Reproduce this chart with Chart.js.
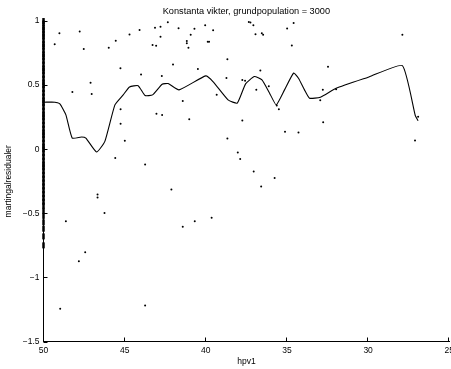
<!DOCTYPE html>
<html>
<head>
<meta charset="utf-8">
<script src="https://cdn.jsdelivr.net/npm/chart.js@4/dist/chart.umd.min.js"></script>
<style>
  html, body { margin: 0; padding: 0; background: #fff; overflow: hidden; }
  #wrap { width: 451px; height: 369px; overflow: hidden; }
</style>
</head>
<body>
<div id="wrap"><canvas id="residChart" width="451" height="369"></canvas></div>
<script>
// tick labels
var xTicks = [50, 45, 40, 35, 30, 25];
var yTicks = [-1.5, -1, -0.5, 0, 0.5, 1];

// scattered residuals (hpv1, residual)
var hpvDots = [49.31, 49.02, 47.77, 47.52, 48.22, 47.10, 47.03, 45.98, 45.55, 44.70,
    44.08, 43.13, 42.79, 42.34, 41.68, 40.70, 40.04, 39.55, 43.28, 43.06,
    42.79, 41.17, 41.17, 41.07, 40.93, 39.88, 39.80, 45.26, 43.99, 42.02,
    42.71, 40.49, 39.33, 41.42, 43.04, 42.69, 41.02, 45.25, 45.25, 44.99,
    45.58, 43.74, 37.35, 37.25, 37.07, 36.94, 36.55, 36.47, 34.99, 34.59,
    34.70, 38.67, 38.73, 37.75, 37.58, 36.64, 36.89, 36.12, 35.63, 35.50,
    37.75, 38.67, 38.03, 37.88, 37.05, 35.76, 35.12, 34.29, 32.77, 32.47,
    32.79, 32.95, 31.97, 27.89, 26.92, 27.11, 46.67, 46.67, 46.24, 48.62,
    47.43, 47.82, 48.97, 43.74, 42.12, 41.42, 40.68, 39.64, 36.59];
var residDots = [0.819, 0.904, 0.918, 0.781, 0.447, 0.518, 0.430, 0.791, 0.847, 0.895,
    0.930, 0.948, 0.956, 0.990, 0.944, 0.940, 0.967, 0.929, 0.813, 0.807,
    0.878, 0.844, 0.827, 0.792, 0.893, 0.838, 0.838, 0.632, 0.582, 0.661,
    0.572, 0.625, 0.424, 0.376, 0.276, 0.267, 0.233, 0.311, 0.198, 0.066,
    -0.068, -0.119, 0.992, 0.988, 0.967, 0.896, 0.905, 0.893, 0.942, 0.984,
    0.809, 0.702, 0.556, 0.541, 0.535, 0.615, 0.463, 0.492, 0.342, 0.311,
    0.224, 0.083, -0.026, -0.076, -0.173, -0.224, 0.136, 0.130, 0.210, 0.644,
    0.463, 0.383, 0.468, 0.893, 0.253, 0.068, -0.354, -0.377, -0.498, -0.562,
    -0.803, -0.873, -1.244, -1.220, -0.315, -0.605, -0.562, -0.535, -0.290];

// residuals stacked at hpv1 = 50
var edgeResid = [1.0, 0.98, 0.95, 0.93, 0.9, 0.88, 0.85, 0.82, 0.8, 0.77,
    0.74, 0.72, 0.69, 0.66, 0.63, 0.61, 0.58, 0.55, 0.52, 0.5,
    0.47, 0.44, 0.41, 0.38, 0.36, 0.33, 0.3, 0.27, 0.25, 0.22,
    0.19, 0.16, 0.13, 0.11, 0.08, 0.05, 0.02, 0.0, -0.03, -0.06,
    -0.09, -0.12, -0.14, -0.17, -0.2, -0.23, -0.26, -0.29, -0.32, -0.35,
    -0.38, -0.41, -0.44, -0.48, -0.52, -0.57, -0.62, -0.68, -0.75];

// smoothed curve
var curveX = [49.95, 49.29, 48.99, 48.62, 48.23, 47.65, 47.39, 46.73, 46.22, 45.60,
    45.09, 44.70, 44.17, 43.74, 43.28, 42.69, 42.32, 41.65, 40.01, 39.56,
    38.63, 38.06, 37.55, 37.01, 36.54, 36.07, 35.66, 35.15, 34.59, 34.29,
    33.92, 33.61, 32.94, 31.97, 29.95, 27.89, 27.09, 26.92];
var curveY = [0.367, 0.367, 0.354, 0.268, 0.087, 0.095, 0.087, -0.022, 0.061, 0.346,
    0.424, 0.486, 0.496, 0.419, 0.424, 0.507, 0.512, 0.463, 0.572, 0.528,
    0.385, 0.360, 0.510, 0.567, 0.541, 0.437, 0.346, 0.463, 0.595, 0.554,
    0.463, 0.398, 0.406, 0.476, 0.564, 0.652, 0.261, 0.222];

var fontFam = "'Liberation Sans', Arial, Helvetica, sans-serif";
var fontSize = 8.5;

// MATLAB style inward tick marks
var inwardTicks = {
    id: 'inwardTicks',
    afterDraw: function(chart) {
        var ctx = chart.ctx;
        var xs = chart.scales.x, ys = chart.scales.y;
        var a = chart.chartArea;
        ctx.save();
        ctx.strokeStyle = '#000';
        ctx.lineWidth = 1;
        ctx.beginPath();
        xTicks.forEach(function(v) {
            var px = Math.round(xs.getPixelForValue(v)) - 0.5;
            ctx.moveTo(px, a.bottom);
            ctx.lineTo(px, a.bottom - 4);
        });
        yTicks.forEach(function(v) {
            var py = Math.round(ys.getPixelForValue(v)) + 0.5;
            ctx.moveTo(a.left, py);
            ctx.lineTo(a.left + 4, py);
        });
        ctx.stroke();
        ctx.restore();
    }
};

function makeConfig() {
    var dotPts = hpvDots.map(function(x, i) { return { x: x, y: residDots[i] }; });
    var edgePts = edgeResid.map(function(y) { return { x: 50, y: y }; });
    var curvePts = curveX.map(function(x, i) { return { x: x, y: curveY[i] }; });
    return {
        type: 'scatter',
        data: {
            datasets: [
                {
                    label: 'kurva',
                    type: 'line',
                    data: curvePts,
                    borderColor: '#000',
                    borderWidth: 1.1,
                    pointRadius: 0,
                    fill: false,
                    tension: 0.15
                },
                {
                    label: 'residualer',
                    data: dotPts,
                    backgroundColor: '#000',
                    borderColor: '#000',
                    pointRadius: 1,
                    borderWidth: 0
                },
                {
                    label: 'kant',
                    data: edgePts,
                    pointStyle: 'line',
                    rotation: 90,
                    borderColor: '#000',
                    pointRadius: 3,
                    borderWidth: 2.5,
                    clip: false
                }
            ]
        },
        options: {
            responsive: false,
            animation: false,
            layout: { autoPadding: false, padding: { left: 0, right: 2, top: 0, bottom: 0 } },
            plugins: {
                legend: { display: false },
                tooltip: { enabled: false },
                title: {
                    display: true,
                    fullSize: false,
                    text: 'Konstanta vikter, grundpopulation = 3000',
                    color: '#000',
                    font: { family: fontFam, size: 9.2, weight: 'normal' },
                    padding: { top: 5.7, bottom: 4.3 }
                }
            },
            scales: {
                x: {
                    type: 'linear',
                    reverse: true,
                    min: 25,
                    max: 50,
                    afterBuildTicks: function(s) { s.ticks = xTicks.map(function(v) { return { value: v }; }); },
                    afterFit: function(s) { s.height = 27.5; },
                    grid: { display: true, drawOnChartArea: false, drawTicks: false },
                    border: { display: true, color: '#000', width: 1 },
                    ticks: {
                        color: '#000',
                        padding: 4,
                        maxRotation: 0,
                        autoSkip: false,
                        font: { family: fontFam, size: fontSize }
                    },
                    title: {
                        display: true,
                        text: 'hpv1',
                        color: '#000',
                        font: { family: fontFam, size: fontSize },
                        padding: { top: 0, bottom: 2 }
                    }
                },
                y: {
                    type: 'linear',
                    min: -1.5,
                    max: 1,
                    afterBuildTicks: function(s) { s.ticks = yTicks.map(function(v) { return { value: v }; }); },
                    afterFit: function(s) { s.width = 43.5; },
                    grid: { display: true, drawOnChartArea: false, drawTicks: false },
                    border: { display: true, color: '#000', width: 1 },
                    ticks: {
                        color: '#000',
                        padding: 4,
                        font: { family: fontFam, size: fontSize },
                        callback: function(v) { return String(v).replace('-', '\u2212'); }
                    },
                    title: {
                        display: true,
                        text: 'martingalresidualer',
                        color: '#000',
                        font: { family: fontFam, size: fontSize },
                        padding: { top: 4, bottom: 0 }
                    }
                }
            }
        },
        plugins: [inwardTicks]
    };
}

// the axes run to the right edge of the window, so the "25" label is cut off there
var canvas = document.getElementById('residChart');
var chart = new Chart(canvas, makeConfig());
var shift = 449 - chart.chartArea.right;
if (Math.abs(shift) > 0.2) {
    chart.destroy();
    var w = Math.round(451 + shift);
    canvas.width = w;
    canvas.style.width = w + 'px';
    canvas.style.height = '369px';
    chart = new Chart(canvas, makeConfig());
}
</script>
</body>
</html>
